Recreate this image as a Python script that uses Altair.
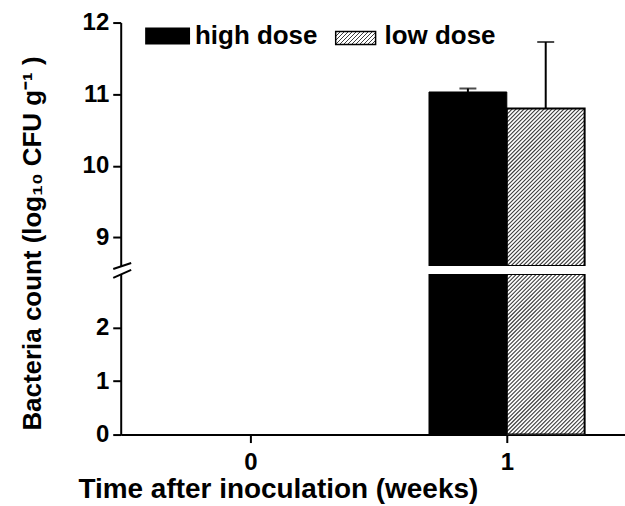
import altair as alt
import pandas as pd

# Bacterial counts per week and dose (mean and SD, log10 CFU/g)
weeks = [0, 1]
doses = ["high dose", "low dose"]
high_mean = [0.0, 11.03]
high_sd = [0.0, 0.05]
low_mean = [0.0, 10.80]
low_sd = [0.0, 0.93]

upper_domain = [8.6, 12]
lower_domain = [0, 3]
upper_ticks = [9, 10, 11, 12]
lower_ticks = [0, 1, 2]
x_domain = [-0.506, 1.461]

FONT = "Liberation Sans"
Y_TITLE = "Bacteria count (log\u2081\u2080 CFU g\u207b\u00b9 )"
X_TITLE = "Time after inoculation (weeks)"

W = 505.5          # plot width (px)
H_UP = 244         # upper panel height (px)
H_LOW = 161        # lower panel height (px)
BAR_W = 78         # bar width (px)
HATCH_STEP = 4.0   # horizontal spacing of the hatch lines (px)

PX_X = W / (x_domain[1] - x_domain[0])
BW = BAR_W / PX_X  # bar width in week units

rows = []
for i, wk in enumerate(weeks):
    for dose, m, s in ((doses[0], high_mean[i], high_sd[i]), (doses[1], low_mean[i], low_sd[i])):
        x0 = wk - BW if dose == doses[0] else wk
        rows.append({"week": wk, "dose": dose, "value": m, "upper": m + s,
                     "x0": x0, "x1": x0 + BW, "xc": x0 + BW / 2})
df = pd.DataFrame(rows)
df = df[df["value"] > 0]


def hatch_lines(frame, lo, hi, ppu):
    """'////' hatch segments filling each bar between lo and min(value, hi)."""
    out = []
    for _, r in frame.iterrows():
        top = min(r["value"], hi)
        hp = (top - lo) * ppu
        if hp <= 0:
            continue
        k = -hp + HATCH_STEP / 2
        while k < BAR_W:
            v0, v1 = max(0.0, -k), min(hp, BAR_W - k)
            if v1 > v0:
                out.append({
                    "xa": r["x0"] + (v0 + k) / PX_X, "ya": lo + v0 / ppu,
                    "xb": r["x0"] + (v1 + k) / PX_X, "yb": lo + v1 / ppu,
                })
            k += HATCH_STEP
    return pd.DataFrame(out)


def swatch_hatch(w, h, period=4.0, dark=0.42, ink="#3c3c3c"):
    """Small striped gradient used for the legend swatch."""
    c = (w + h) / (w * w + h * h)
    n = (w + h) / period
    stops = []
    k = 0
    while k < n:
        a = k / n
        b = min((k + dark) / n, 1.0)
        e = min((k + 1) / n, 1.0)
        stops += [
            alt.GradientStop(offset=a, color=ink),
            alt.GradientStop(offset=b, color=ink),
            alt.GradientStop(offset=b, color="white"),
            alt.GradientStop(offset=e, color="white"),
        ]
        k += 1
    return alt.LinearGradient(gradient="linear", x1=0, y1=0, x2=c * w, y2=c * h, stops=stops)


x_scale = alt.Scale(domain=x_domain, nice=False, zero=False)


def panel(domain, ticks, height, with_x_axis, y_axis_extra):
    lo, hi = domain
    ppu = height / (hi - lo)
    y_scale = alt.Scale(domain=domain, nice=False, zero=False)
    y_axis = alt.Axis(values=ticks, format="d", **y_axis_extra)
    if with_x_axis:
        x_axis = alt.Axis(
            title=X_TITLE, values=weeks, format="d", titleX=157.5, titleY=63,
            titleAlign="center", titleBaseline="alphabetic",
        )
    else:
        x_axis = None

    bars_df = df.assign(top=df["value"].clip(upper=hi), bottom=lo)
    high = bars_df[bars_df["dose"] == doses[0]]
    low = bars_df[bars_df["dose"] == doses[1]]

    def bar_enc():
        return dict(
            x=alt.X("x0:Q", scale=x_scale, axis=x_axis), x2="x1:Q",
            y=alt.Y("top:Q", scale=y_scale, axis=y_axis), y2="bottom:Q",
        )

    layers = [
        alt.Chart(high).mark_bar(fill="black", stroke="black", strokeWidth=1, clip=True).encode(**bar_enc()),
        alt.Chart(low).mark_bar(fill="white", clip=True).encode(**bar_enc()),
        alt.Chart(hatch_lines(low, lo, hi, ppu)).mark_rule(color="#3a3a3a", strokeWidth=1.1, clip=True).encode(
            x=alt.X("xa:Q", scale=x_scale, axis=x_axis), x2="xb:Q",
            y=alt.Y("ya:Q", scale=y_scale, axis=y_axis), y2="yb:Q",
        ),
        alt.Chart(low).mark_bar(fill=None, stroke="black", strokeWidth=2, clip=True).encode(**bar_enc()),
    ]
    if not with_x_axis:
        layers.append(
            alt.Chart(df).mark_rule(color="black", strokeWidth=2, clip=True).encode(
                x=alt.X("xc:Q", scale=x_scale, axis=x_axis),
                y=alt.Y("value:Q", scale=y_scale, axis=y_axis), y2="upper:Q",
            )
        )
        layers.append(
            alt.Chart(df).mark_tick(color="black", thickness=2, size=17, orient="horizontal", clip=True).encode(
                x=alt.X("xc:Q", scale=x_scale, axis=x_axis),
                y=alt.Y("upper:Q", scale=y_scale, axis=y_axis),
            )
        )
    return alt.layer(*layers).properties(width=W, height=height)


upper = panel(
    upper_domain, upper_ticks, H_UP, False,
    dict(title=Y_TITLE, titleAngle=-90, titleX=-80.5, titleY=221,
         titleAlign="center", titleBaseline="alphabetic", titleFontSize=26),
)
lower = panel(lower_domain, lower_ticks, H_LOW, True, dict(title=None))

anchor = pd.DataFrame({"k": [0]})

# axis break marks on the y axis
brk = [
    alt.Chart(anchor).mark_rule(color="black", strokeWidth=2).encode(
        x=alt.value(-7.5), x2=alt.value(10.5), y=alt.value(247), y2=alt.value(241)
    ),
    alt.Chart(anchor).mark_rule(color="black", strokeWidth=2).encode(
        x=alt.value(-7.5), x2=alt.value(10.5), y=alt.value(256), y2=alt.value(248)
    ),
]

# legend
leg_txt = dict(align="left", baseline="alphabetic", fontSize=26, fontWeight="bold", font=FONT, color="black")
legend = [
    alt.Chart(anchor).mark_rect(fill="black").encode(
        x=alt.value(24.5), x2=alt.value(69.5), y=alt.value(5), y2=alt.value(22)
    ),
    alt.Chart(anchor).mark_text(**leg_txt).encode(
        x=alt.value(74.5), y=alt.value(22), text=alt.value(doses[0])
    ),
    alt.Chart(anchor).mark_rect(fill=swatch_hatch(40, 13), stroke="black", strokeWidth=1.5).encode(
        x=alt.value(215.5), x2=alt.value(255.5), y=alt.value(9), y2=alt.value(22)
    ),
    alt.Chart(anchor).mark_text(**leg_txt).encode(
        x=alt.value(264.5), y=alt.value(22), text=alt.value(doses[1])
    ),
]

upper_full = alt.layer(upper, *brk, *legend).properties(width=W, height=H_UP)

chart = (
    alt.vconcat(upper_full, lower, spacing=8, bounds="flush")
    .properties(padding={"left": 19, "top": 10, "right": 0, "bottom": 0}, background="white")
    .configure_view(stroke=None)
    .configure_axis(
        labelFont=FONT, titleFont=FONT, labelFontSize=24, titleFontSize=28,
        labelFontWeight="bold", titleFontWeight="bold",
        labelColor="black", titleColor="black",
        domainColor="black", domainWidth=2, tickColor="black", tickWidth=2, tickSize=8,
        grid=False, labelPadding=4,
    )
    .configure_axisX(labelPadding=8)
)

chart.save("out.html", embed_options={"renderer": "svg", "actions": False})
